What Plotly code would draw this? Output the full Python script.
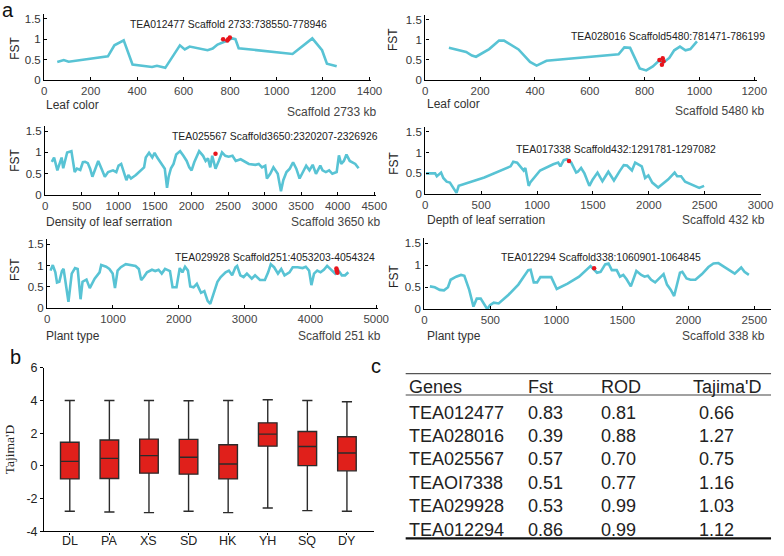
import plotly.graph_objects as go

W, H = 784, 556

def px(x):
    return x / W

def py(y):
    return 1 - y / H

# ---------------- data: panel a ----------------
a1_pos = [56, 84, 105, 274, 302, 342, 380, 464, 485, 521, 584, 605, 626, 703, 725, 746, 781, 809, 823, 837, 1069, 1119, 1154, 1196, 1217, 1259]
a1_fst = [0.44, 0.49, 0.45, 0.58, 0.85, 0.97, 0.38, 0.32, 0.35, 0.30, 0.85, 0.75, 0.82, 0.73, 0.77, 0.87, 0.95, 1.02, 1.00, 0.78, 0.64, 0.87, 1.02, 0.73, 0.40, 0.34]
a1_hit_pos = [770, 788, 792, 799]
a1_hit_fst = [1.00, 0.97, 1.00, 1.04]

a2_pos = [86, 149, 170, 185, 233, 269, 287, 340, 382, 406, 442, 705, 726, 747, 782, 806, 830, 854, 866, 890, 908, 929, 949, 967, 991]
a2_fst = [0.80, 0.70, 0.61, 0.58, 0.77, 0.98, 0.98, 0.76, 0.45, 0.36, 0.48, 0.64, 0.81, 0.80, 0.29, 0.24, 0.34, 0.49, 0.42, 0.55, 0.74, 0.83, 0.74, 0.77, 0.96]
a2_hit_pos = [854, 866, 869, 863]
a2_hit_fst = [0.50, 0.54, 0.47, 0.38]

a3_pos = [90, 121, 166, 197, 224, 246, 278, 300, 358, 381, 403, 434, 479, 515, 546, 582, 614, 645, 681, 725,
          770, 815, 860, 927, 972, 1003, 1039, 1084, 1110, 1137, 1173, 1240, 1352, 1375, 1420, 1464, 1496, 1532, 1563, 1599,
          1635, 1666, 1688, 1720, 1755, 1791, 1845, 1890, 1935, 1970, 2002, 2038, 2105, 2159, 2194, 2226, 2257, 2284, 2329, 2373,
          2418, 2463, 2508, 2561, 2606, 2673, 2785, 2875, 2920, 2965, 3009, 3032, 3077, 3121, 3180, 3224, 3256, 3300, 3345, 3390,
          3434, 3479, 3524, 3569, 3614, 3658, 3703, 3762, 3793, 3838, 3883, 3927, 3986, 4017, 4048, 4084, 4120, 4165, 4241, 4286]
a3_fst = [0.78, 0.88, 0.58, 0.73, 0.88, 0.63, 0.84, 1.00, 1.03, 0.80, 0.54, 0.62, 0.59, 0.77, 0.78, 0.75, 0.62, 0.43, 0.62, 0.80,
          0.62, 0.43, 0.54, 0.58, 0.54, 0.69, 0.73, 0.47, 0.35, 0.47, 0.39, 0.47, 0.65, 0.88, 0.99, 0.88, 0.99, 0.88, 0.80, 0.73,
          0.62, 0.17, 0.43, 0.63, 0.73, 0.95, 1.03, 0.92, 0.80, 0.65, 0.58, 0.77, 1.03, 0.92, 0.80, 0.86, 0.65, 0.92, 0.62, 0.80,
          1.00, 0.92, 0.90, 0.92, 0.80, 0.84, 0.73, 0.71, 0.73, 0.65, 0.69, 0.39, 0.50, 0.65, 0.50, 0.09, 0.35, 0.54, 0.62, 0.77,
          0.62, 0.39, 0.54, 0.69, 0.58, 0.71, 0.50, 0.69, 0.58, 0.54, 0.58, 0.50, 0.54, 0.93, 0.73, 0.80, 0.95, 0.80, 0.73, 0.63]
a3_hit_pos = [2329]
a3_hit_fst = [0.97]

a4_pos = [6, 44, 88, 103, 141, 161, 191, 220, 249, 279, 299, 528, 763, 787, 822, 851, 880, 895, 925, 939,
          1027, 1145, 1189, 1209, 1239, 1268, 1306, 1350, 1365, 1394, 1424, 1468, 1497, 1541, 1585, 1638, 1688, 1738, 1776, 1805,
          1849, 1878, 1914, 1937, 1967, 1996, 2031, 2084, 2172, 2207, 2231, 2254, 2289, 2325, 2392, 2451, 2495]
a4_fst = [0.50, 0.50, 0.50, 0.43, 0.52, 0.39, 0.30, 0.28, 0.16, 0.03, 0.20, 0.40, 0.67, 0.78, 0.76, 0.67, 0.57, 0.63, 0.20, 0.28,
          0.57, 0.72, 0.76, 0.67, 0.82, 0.84, 0.76, 0.52, 0.54, 0.63, 0.50, 0.20, 0.35, 0.52, 0.31, 0.54, 0.33, 0.55, 0.70, 0.69,
          0.57, 0.76, 0.70, 0.67, 0.39, 0.45, 0.28, 0.16, 0.35, 0.46, 0.52, 0.43, 0.43, 0.30, 0.22, 0.15, 0.20]
a4_hit_pos = [1286]
a4_hit_fst = [0.80]

a5_pos = [50, 85, 124, 149, 184, 224, 249, 284, 323, 373, 423, 463, 507, 537, 597, 647, 721, 796, 821, 896,
          945, 995, 1030, 1070, 1119, 1194, 1294, 1343, 1393, 1428, 1468, 1517, 1592, 1642, 1692, 1741, 1791, 1866, 1905, 1965,
          2015, 2055, 2095, 2139, 2174, 2224, 2274, 2338, 2388, 2438, 2478, 2537, 2587, 2637, 2711, 2761, 2811, 2861, 2886, 2935,
          2985, 3035, 3109, 3159, 3234, 3308, 3358, 3398, 3448, 3507, 3557, 3607, 3682, 3731, 3806, 3881, 3930, 3980, 4015, 4055,
          4104, 4154, 4204, 4254, 4328, 4378, 4428, 4478, 4527, 4577]
a5_fst = [0.88, 1.01, 0.84, 0.60, 0.62, 0.87, 0.92, 0.58, 0.15, 0.81, 0.94, 0.92, 0.21, 0.62, 0.67, 0.47, 0.69, 0.84, 1.01, 0.97,
          0.92, 0.81, 0.47, 0.88, 0.96, 1.03, 1.01, 0.99, 0.92, 0.66, 0.73, 0.84, 0.90, 0.87, 0.90, 0.81, 0.92, 0.87, 0.49, 0.49,
          0.94, 0.84, 0.97, 0.88, 0.51, 0.49, 0.57, 0.36, 0.40, 0.17, 0.10, 0.36, 0.62, 0.73, 0.84, 0.88, 0.77, 0.96, 0.99, 0.77,
          0.73, 0.81, 0.69, 0.77, 0.66, 0.66, 0.84, 1.03, 0.96, 0.81, 0.92, 0.77, 0.84, 0.96, 0.96, 0.94, 0.97, 0.88, 0.54, 0.81,
          0.88, 0.84, 0.90, 0.99, 0.88, 0.81, 0.88, 0.77, 0.77, 0.84]
a5_hit_pos = [4395, 4400, 4405, 4410]
a5_hit_fst = [0.93, 0.89, 0.86, 0.83]

a6_pos = [42, 79, 117, 149, 179, 199, 241, 278, 303, 340, 372, 397, 427, 452, 477, 497, 526, 563, 638, 712,
          750, 787, 805, 829, 854, 879, 924, 961, 1003, 1085, 1172, 1259, 1276, 1308, 1335, 1370, 1395, 1420, 1457, 1482,
          1507, 1532, 1564, 1606, 1643, 1668, 1693, 1718, 1748, 1812, 1838, 1867, 1892, 1936, 1954, 1986, 2016, 2053, 2103, 2152,
          2190, 2227, 2289, 2351, 2400, 2425, 2458]
a6_fst = [0.52, 0.50, 0.44, 0.43, 0.50, 0.67, 0.74, 0.78, 0.76, 0.44, 0.06, 0.24, 0.24, 0.11, 0.00, 0.09, 0.15, 0.13, 0.33, 0.56,
          0.74, 0.89, 0.90, 0.61, 0.61, 0.73, 0.73, 0.73, 0.46, 0.58, 0.74, 0.98, 0.93, 0.83, 0.85, 1.02, 1.04, 0.89, 0.89, 0.74,
          0.78, 0.68, 0.52, 0.87, 0.78, 0.74, 0.76, 0.67, 0.61, 0.80, 0.56, 0.44, 0.30, 0.83, 0.85, 0.70, 0.67, 0.67, 0.80, 0.96,
          1.04, 1.05, 0.93, 0.81, 0.95, 0.85, 0.78]
a6_hit_pos = [1286]
a6_hit_fst = [0.93]

gene_labels = ["TEA012477 Scaffold 2733:738550-778946", "TEA028016 Scaffold5480:781471-786199",
               "TEA025567 Scaffold3650:2320207-2326926", "TEA017338 Scaffold432:1291781-1297082",
               "TEA029928 Scaffold251:4053203-4054324", "TEA012294 Scaffold338:1060901-1064845"]
trait_labels = ["Leaf color", "Leaf color", "Density of leaf serration", "Depth of leaf serration", "Plant type", "Plant type"]
scaffold_labels = ["Scaffold 2733 kb", "Scaffold 5480 kb", "Scaffold 3650 kb", "Scaffold 432 kb", "Scaffold 251 kb", "Scaffold 338 kb"]
x_ticks = [[0, 200, 400, 600, 800, 1000, 1200, 1400], [0, 200, 400, 600, 800, 1000, 1200],
           [0, 500, 1000, 1500, 2000, 2500, 3000, 3500, 4000, 4500], [0, 500, 1000, 1500, 2000, 2500, 3000],
           [0, 1000, 2000, 3000, 4000, 5000], [0, 500, 1000, 1500, 2000, 2500]]
fst_ticks = [0, 0.5, 1, 1.5]
fst_ticktext = ["0", "0.5", "1", "1.5"]

# ---------------- data: panel b ----------------
pops = ["DL", "PA", "XS", "SD", "HK", "YH", "SQ", "DY"]
taj_low = [-2.77, -2.81, -2.85, -2.77, -2.85, -2.57, -2.73, -2.77]
taj_q1 = [-0.79, -0.77, -0.44, -0.50, -0.79, 1.21, 0.02, -0.30]
taj_med = [0.28, 0.46, 0.63, 0.53, 0.12, 1.94, 1.19, 0.79]
taj_q3 = [1.45, 1.58, 1.64, 1.62, 1.29, 2.63, 2.10, 1.78]
taj_high = [4.0, 4.0, 4.0, 3.98, 4.0, 4.04, 4.0, 3.92]
taj_ticks = [-4, -2, 0, 2, 4, 6]
taj_ticktext = ["-4", "-2", "0", "2", "4", "6"]

# ---------------- data: panel c ----------------
tbl_header = ["Genes", "Fst", "ROD", "Tajima'D"]
tbl_genes = ["TEA012477", "TEA028016", "TEA025567", "TEAOI7338", "TEA029928", "TEA012294"]
tbl_fst = ["0.83", "0.39", "0.57", "0.51", "0.53", "0.86"]
tbl_rod = ["0.81", "0.88", "0.70", "0.77", "0.99", "0.99"]
tbl_taj = ["0.66", "1.27", "0.75", "1.16", "1.03", "1.12"]

# ---------------- layout geometry (pixels) ----------------
panels = [
    (42, 375, 7, 75, 1408),
    (430, 768, 8, 75, 1211),
    (43, 380, 122, 193, 4527),
    (430, 772, 123, 192, 3006),
    (45, 382, 238, 309, 5030),
    (429, 782, 237, 310, 2626),
]
series = [
    (a1_pos, a1_fst, a1_hit_pos, a1_hit_fst),
    (a2_pos, a2_fst, a2_hit_pos, a2_hit_fst),
    (a3_pos, a3_fst, a3_hit_pos, a3_hit_fst),
    (a4_pos, a4_fst, a4_hit_pos, a4_hit_fst),
    (a5_pos, a5_fst, a5_hit_pos, a5_hit_fst),
    (a6_pos, a6_fst, a6_hit_pos, a6_hit_fst),
]
gene_xy = [(230, 18, "center"), (778, 30, "right"), (277, 133, "center"),
           (624, 146, "center"), (277, 257, "center"), (609, 257, "center")]
fst_xy = [(12, 42), (397, 33), (12, 157), (398, 160), (12, 269), (398, 276)]
trait_xy = [(42, 101), (430, 99), (42, 221), (430, 219), (42, 337), (430, 338)]
scaf_xy = [(383, 108), (778, 107), (387, 221), (778, 219), (387, 337), (778, 338)]

LINE_COLOR = "#58c3d4"
HIT_COLOR = "#e8141c"
FONT = "Arial, Liberation Sans, sans-serif"

fig = go.Figure()
annotations = []
shapes = []
layout_axes = {}

for i, ((xl, xr, yt, yb, xmax), (xs, ys, hx, hy)) in enumerate(zip(panels, series)):
    n = i + 1
    xa = "x" if n == 1 else f"x{n}"
    ya = "y" if n == 1 else f"y{n}"
    fig.add_trace(go.Scatter(x=xs, y=ys, mode="lines", xaxis=xa, yaxis=ya,
                             line=dict(color=LINE_COLOR, width=2.6), showlegend=False, hoverinfo="skip"))
    fig.add_trace(go.Scatter(x=hx, y=hy, mode="markers", xaxis=xa, yaxis=ya,
                             marker=dict(color=HIT_COLOR, size=4.5), showlegend=False, hoverinfo="skip"))
    kx = "xaxis" if n == 1 else f"xaxis{n}"
    ky = "yaxis" if n == 1 else f"yaxis{n}"
    layout_axes[kx] = dict(domain=[px(xl), px(xr)], anchor=ya, range=[0, xmax],
                           tickvals=x_ticks[i], ticks="inside", ticklen=3, tickwidth=1.2, tickcolor="black",
                           showline=True, linecolor="black", linewidth=1.4, showgrid=False, zeroline=False,
                           tickfont=dict(family=FONT, size=11.5, color="#444"))
    layout_axes[ky] = dict(domain=[py(yb), py(yt)], anchor=xa, range=[0, 1.62],
                           tickvals=fst_ticks, ticktext=fst_ticktext, ticks="inside", ticklen=3, tickwidth=1.2,
                           tickcolor="black", showline=True, linecolor="black", linewidth=1.4, showgrid=False,
                           zeroline=False, tickfont=dict(family=FONT, size=11.5, color="#333"))
    gx, gy, ganc = gene_xy[i]
    annotations.append(dict(text=gene_labels[i], x=px(gx), y=py(gy), xref="paper", yref="paper",
                            showarrow=False, xanchor=ganc, yanchor="middle",
                            font=dict(family=FONT, size=10.4, color="#222")))
    annotations.append(dict(text="FST", x=px(fst_xy[i][0]), y=py(fst_xy[i][1]), xref="paper", yref="paper",
                            showarrow=False, textangle=-90, xanchor="center", yanchor="middle",
                            font=dict(family=FONT, size=12, color="#222")))
    annotations.append(dict(text=trait_labels[i], x=px(trait_xy[i][0]), y=py(trait_xy[i][1]), xref="paper", yref="paper",
                            showarrow=False, xanchor="left", yanchor="middle",
                            font=dict(family=FONT, size=12, color="#333")))
    annotations.append(dict(text=scaffold_labels[i], x=px(scaf_xy[i][0]), y=py(scaf_xy[i][1]), xref="paper", yref="paper",
                            showarrow=False, xanchor="right", yanchor="middle",
                            font=dict(family=FONT, size=12, color="#444")))

# ---------------- panel b: box plot ----------------
fig.add_trace(go.Box(x=pops, q1=taj_q1, median=taj_med, q3=taj_q3, lowerfence=taj_low, upperfence=taj_high,
                     xaxis="x7", yaxis="y7", fillcolor="#e0201b", line=dict(color="#2b2b2b", width=1.4),
                     whiskerwidth=0.55, showlegend=False, hoverinfo="skip", boxpoints=False))
layout_axes["xaxis7"] = dict(domain=[px(42), px(378)], anchor="y7", range=[-0.645, 7.69], type="category",
                             showline=True, linecolor="black", linewidth=1.4, ticks="outside", ticklen=2,
                             tickcolor="black", showgrid=False, zeroline=False, showticklabels=False)
layout_axes["yaxis7"] = dict(domain=[py(538), py(370)], anchor="x7", range=[-4, 6], tickvals=taj_ticks,
                             ticktext=taj_ticktext,
                             showline=True, linecolor="black", linewidth=1.4, ticks="outside", ticklen=3,
                             tickcolor="black", showgrid=False, zeroline=False,
                             tickfont=dict(family=FONT, size=12.5, color="#222"),
                             title=dict(text="Tajima'D", font=dict(family="Liberation Serif, Times New Roman, serif", size=13.5, color="#222"),
                                        standoff=8))
for p in pops:
    annotations.append(dict(text=p, x=p, y=py(548), xref="x7", yref="paper", showarrow=False,
                            xanchor="center", yanchor="middle", font=dict(family=FONT, size=12.5, color="#222")))

# ---------------- panel labels ----------------
for lab, (lx, ly) in zip(["a", "b", "c"], [(5, 3), (13, 359), (380, 368)]):
    annotations.append(dict(text=lab, x=px(lx), y=py(ly), xref="paper", yref="paper", showarrow=False,
                            xanchor="center", yanchor="middle", font=dict(family=FONT, size=20, color="#111")))

# ---------------- panel c: table ----------------
col_x = [411, 532, 607, 700]
val_x = [411, 532, 607, 707]
header_y = 390
row_y = [416, 440, 464, 488, 512, 536]
for cx, txt in zip(col_x, tbl_header):
    annotations.append(dict(text=txt, x=px(cx), y=py(header_y), xref="paper", yref="paper", showarrow=False,
                            xanchor="left", yanchor="middle", font=dict(family=FONT, size=18, color="#222")))
for r, ry in enumerate(row_y):
    for cx, col in zip(val_x, [tbl_genes, tbl_fst, tbl_rod, tbl_taj]):
        annotations.append(dict(text=col[r], x=px(cx), y=py(ry), xref="paper", yref="paper", showarrow=False,
                                xanchor="left", yanchor="middle", font=dict(family=FONT, size=18, color="#222")))
shapes.append(dict(type="line", xref="paper", yref="paper", x0=px(410), x1=px(782), y0=py(376), y1=py(376),
                   line=dict(color="#555", width=1.2)))
shapes.append(dict(type="line", xref="paper", yref="paper", x0=px(410), x1=px(782), y0=py(398), y1=py(398),
                   line=dict(color="#444", width=1.2)))
shapes.append(dict(type="line", xref="paper", yref="paper", x0=px(410), x1=px(782), y0=py(545), y1=py(545),
                   line=dict(color="#111", width=2.2)))

fig.update_layout(width=W, height=H, margin=dict(l=0, r=0, t=0, b=0), paper_bgcolor="white",
                  plot_bgcolor="white", showlegend=False, annotations=annotations, shapes=shapes,
                  boxgap=0.33, **layout_axes)

fig.write_html("out.html", config={"displayModeBar": False},
               post_script="document.body.style.margin='0';document.body.style.padding='0';"
                           "document.documentElement.style.overflow='hidden';")
